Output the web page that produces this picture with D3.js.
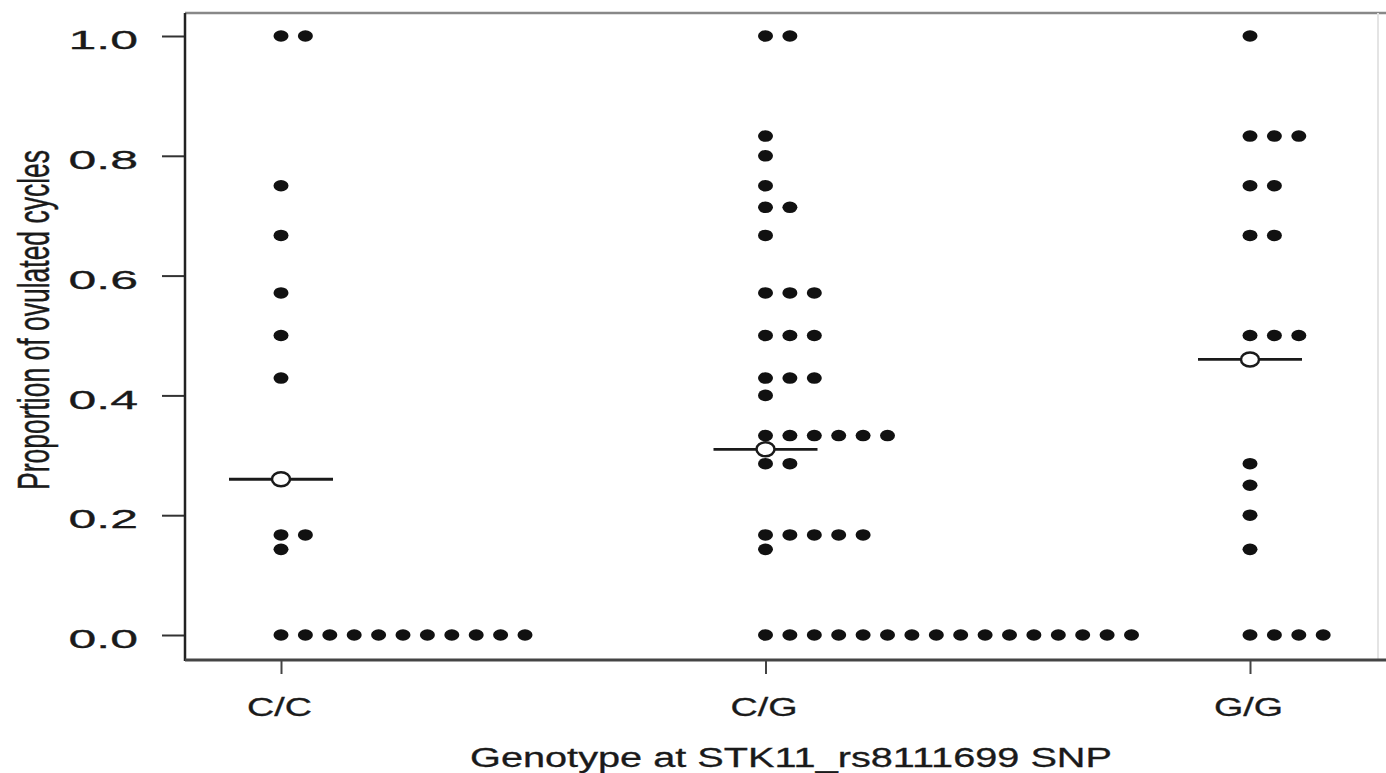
<!DOCTYPE html>
<meta charset="utf-8"/>
<head>
<style>
  body { margin: 0; background: #fff; }
  svg { display: block; }
  text { font-family: "Liberation Sans", Arial, sans-serif; fill: #1a1a1a; stroke: #1a1a1a; stroke-width: 0.3px; }
</style>
<script src="https://d3js.org/d3.v7.min.js"></script>
</head>
<body>
<script>
  // genotype groups and proportions of ovulated cycles (one value per subject)
  var genotypes = ["C/C", "C/G", "G/G"];
  var ccValues = [1.0, 1.0, 0.75, 0.667, 0.571, 0.5, 0.429, 0.167, 0.167, 0.143,
                  0, 0, 0, 0, 0, 0, 0, 0, 0, 0, 0];
  var cgValues = [1.0, 1.0, 0.833, 0.8, 0.75, 0.714, 0.714, 0.667,
                  0.571, 0.571, 0.571, 0.5, 0.5, 0.5, 0.429, 0.429, 0.429, 0.4,
                  0.333, 0.333, 0.333, 0.333, 0.333, 0.333, 0.286, 0.286,
                  0.167, 0.167, 0.167, 0.167, 0.167, 0.143,
                  0, 0, 0, 0, 0, 0, 0, 0, 0, 0, 0, 0, 0, 0, 0, 0];
  var ggValues = [1.0, 0.833, 0.833, 0.833, 0.75, 0.75, 0.667, 0.667, 0.5, 0.5, 0.5,
                  0.286, 0.25, 0.2, 0.143, 0, 0, 0, 0];
  var groupMeans = [0.26, 0.31, 0.46];
  var yTicks = [0, 0.2, 0.4, 0.6, 0.8, 1.0];

  var width = 1386, height = 773;
  var stretch = 1.7; // picture is stretched horizontally, text follows it

  var svg = d3.select("body").append("svg")
    .attr("width", width)
    .attr("height", height);

  var x = d3.scalePoint()
    .domain(genotypes)
    .range([281, 1250]);

  var y = d3.scaleLinear()
    .domain([0, 1])
    .range([635, 36]);

  var frame = {left: 185, top: 13, bottom: 660, right: 1378};

  // frame lines
  svg.append("line").attr("x1", frame.left).attr("x2", width)
    .attr("y1", frame.top).attr("y2", frame.top)
    .attr("stroke", "#888").attr("stroke-width", 2.5);
  svg.append("line").attr("x1", frame.right).attr("x2", frame.right)
    .attr("y1", frame.top).attr("y2", frame.bottom)
    .attr("stroke", "#e4e4e4").attr("stroke-width", 2);

  // y axis
  var yAxis = svg.append("g")
    .attr("transform", "translate(" + frame.left + ",0)")
    .call(d3.axisLeft(y).tickValues(yTicks).tickSize(23).tickFormat(d3.format(".1f")));
  yAxis.select(".domain").remove();
  yAxis.selectAll(".tick line").attr("stroke", "#333").attr("stroke-width", 2);
  yAxis.selectAll(".tick text").remove();
  yAxis.selectAll(".tick").append("text")
    .attr("transform", "translate(-47,4) scale(2,1)")
    .attr("text-anchor", "end")
    .attr("dy", "0.35em")
    .style("font-size", "25px")
    .text(function(d) { return d3.format(".1f")(d); });
  svg.append("line").attr("x1", frame.left).attr("x2", frame.left)
    .attr("y1", frame.top).attr("y2", frame.bottom + 1)
    .attr("stroke", "#222").attr("stroke-width", 2.5);

  // x axis
  var xAxis = svg.append("g")
    .attr("transform", "translate(0," + frame.bottom + ")")
    .call(d3.axisBottom(x).tickSize(14));
  xAxis.select(".domain").remove();
  xAxis.selectAll(".tick line").attr("stroke", "#444").attr("stroke-width", 2);
  xAxis.selectAll(".tick text").remove();
  xAxis.selectAll(".tick").append("text")
    .attr("transform", "translate(-2,56) scale(1.45,1)")
    .attr("text-anchor", "middle")
    .style("font-size", "26px")
    .text(function(d) { return d; });
  svg.append("line").attr("x1", frame.left).attr("x2", width)
    .attr("y1", frame.bottom).attr("y2", frame.bottom)
    .attr("stroke", "#444").attr("stroke-width", 3);

  // axis titles
  svg.append("text")
    .attr("transform", "translate(791,767) scale(1.47,1)")
    .attr("text-anchor", "middle")
    .style("font-size", "27px")
    .text("Genotype at STK11_rs8111699 SNP");

  svg.append("text")
    .attr("transform", "translate(49,320) scale(" + stretch + ",1) rotate(-90)")
    .attr("text-anchor", "middle")
    .style("font-size", "26.5px")
    .text("Proportion of ovulated cycles");

  // dot layout: equal values pile up to the right of the genotype position
  var groups = [ccValues, cgValues, ggValues];
  var step = 24.4;
  var dots = [];
  groups.forEach(function(vals, gi) {
    var seen = {};
    vals.forEach(function(v) {
      var k = v.toFixed(3);
      seen[k] = (seen[k] || 0);
      dots.push({g: genotypes[gi], v: v, i: seen[k]});
      seen[k] += 1;
    });
  });

  svg.append("g").selectAll("ellipse")
    .data(dots)
    .enter().append("ellipse")
    .attr("cx", function(d) { return x(d.g) + d.i * step; })
    .attr("cy", function(d) { return y(d.v); })
    .attr("rx", 7.5)
    .attr("ry", 5.8)
    .attr("fill", "#111");

  // mean markers
  var means = svg.append("g").selectAll("g")
    .data(genotypes)
    .enter().append("g");
  means.append("line")
    .attr("x1", function(d) { return x(d) - 52; })
    .attr("x2", function(d) { return x(d) + 52; })
    .attr("y1", function(d, i) { return y(groupMeans[i]); })
    .attr("y2", function(d, i) { return y(groupMeans[i]); })
    .attr("stroke", "#1a1a1a").attr("stroke-width", 2.8);
  means.append("ellipse")
    .attr("cx", function(d) { return x(d); })
    .attr("cy", function(d, i) { return y(groupMeans[i]); })
    .attr("rx", 9)
    .attr("ry", 7)
    .attr("fill", "#fff")
    .attr("stroke", "#1a1a1a").attr("stroke-width", 2.5);
</script>
</body>
</html>
